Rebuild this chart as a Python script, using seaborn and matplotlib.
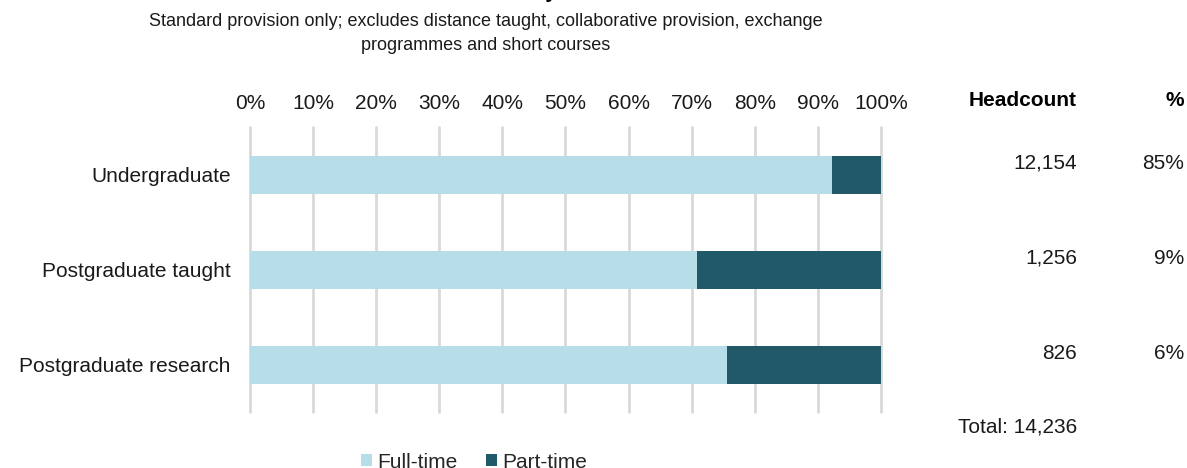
import matplotlib
matplotlib.use("Agg")
import matplotlib.pyplot as plt
import matplotlib.transforms as mtransforms
from matplotlib.patches import Patch
import numpy as np
import pandas as pd
import seaborn as sns

# Level of study and share of students on each mode
levels = ["Undergraduate", "Postgraduate taught", "Postgraduate research"]
full_time_pct = [92.2, 70.9, 75.6]
part_time_pct = [7.8, 29.1, 24.4]
headcount = [12154, 1256, 826]
x_ticks = list(range(0, 101, 10))

LIGHT = "#B7DEE8"
DARK = "#215968"
GRID = "#D9D9D9"

sns.set_theme(style="white")
plt.rcParams["font.family"] = ["Liberation Sans", "DejaVu Sans"]

df = pd.DataFrame({
    "level": levels,
    "full": full_time_pct,
    "total": np.array(full_time_pct) + np.array(part_time_pct),
})

fig = plt.figure(figsize=(11.87, 4.68), dpi=100)
ax = fig.add_axes([250 / 1187, 1 - 412 / 468, 631 / 1187, 285 / 468])

# stacked bars: full bar in part-time colour, full-time share drawn on top
sns.barplot(data=df, x="total", y="level", color=DARK, width=0.4,
            saturation=1, linewidth=0, ax=ax, zorder=2)
sns.barplot(data=df, x="full", y="level", color=LIGHT, width=0.4,
            saturation=1, linewidth=0, ax=ax, zorder=3)

ax.set_xlim(0, 100)
ax.set_ylim(2.5, -0.5)
ax.set_xticks(x_ticks)
ax.set_xticklabels([f"{t}%" for t in x_ticks], fontsize=15, color="#1a1a1a")
ax.xaxis.tick_top()
ax.tick_params(axis="x", length=0, pad=10)
ax.tick_params(axis="y", length=0, pad=14, labelsize=15, labelcolor="#1a1a1a")
ax.set_xlabel("")
ax.set_ylabel("")
for s in ax.spines.values():
    s.set_visible(False)
ax.grid(axis="x", color=GRID, linewidth=2, zorder=0)
ax.grid(axis="y", visible=False)
ax.set_axisbelow(True)
for gl in ax.get_xgridlines():
    gl.set_clip_on(False)

# headcount table on the right
blend = mtransforms.blended_transform_factory(fig.transFigure, ax.transData)
col_hc = 1077 / 1187
col_pc = 1184 / 1187
total = sum(headcount)
ax.text(col_hc, -0.78, "Headcount", transform=blend, ha="right", va="center",
        fontsize=15, fontweight="bold", color="black", clip_on=False)
ax.text(col_pc, -0.78, "%", transform=blend, ha="right", va="center",
        fontsize=15, fontweight="bold", color="black", clip_on=False)
for i, hc in enumerate(headcount):
    ax.text(col_hc, i - 0.12, f"{hc:,}", transform=blend, ha="right",
            va="center", fontsize=15, color="#1a1a1a", clip_on=False)
    ax.text(col_pc, i - 0.12, f"{hc / total:.0%}", transform=blend, ha="right",
            va="center", fontsize=15, color="#1a1a1a", clip_on=False)
ax.text(col_hc, 2.66, f"Total: {total:,}", transform=blend, ha="right",
        va="center", fontsize=15, color="#1a1a1a", clip_on=False)

# titles
fig.text(486 / 1187, 1 + 2.5 / 468, "Mode of study", ha="center",
         va="baseline", fontsize=15, fontweight="bold", color="black")
fig.text(486 / 1187, 1 - 21 / 468,
         "Standard provision only; excludes distance taught, collaborative provision, exchange",
         ha="center", va="center", fontsize=13, color="#1a1a1a")
fig.text(486 / 1187, 1 - 45 / 468, "programmes and short courses",
         ha="center", va="center", fontsize=13, color="#1a1a1a")

handles = [Patch(facecolor=LIGHT, edgecolor="none", label="Full-time"),
           Patch(facecolor=DARK, edgecolor="none", label="Part-time")]
fig.legend(handles=handles, loc="center", bbox_to_anchor=(474 / 1187, 1 - 462 / 468),
           ncol=2, frameon=False, fontsize=15, handlelength=0.55,
           handleheight=0.55, handletextpad=0.25, columnspacing=1.35,
           borderpad=0, borderaxespad=0)

fig.savefig("out.png", dpi=100)
